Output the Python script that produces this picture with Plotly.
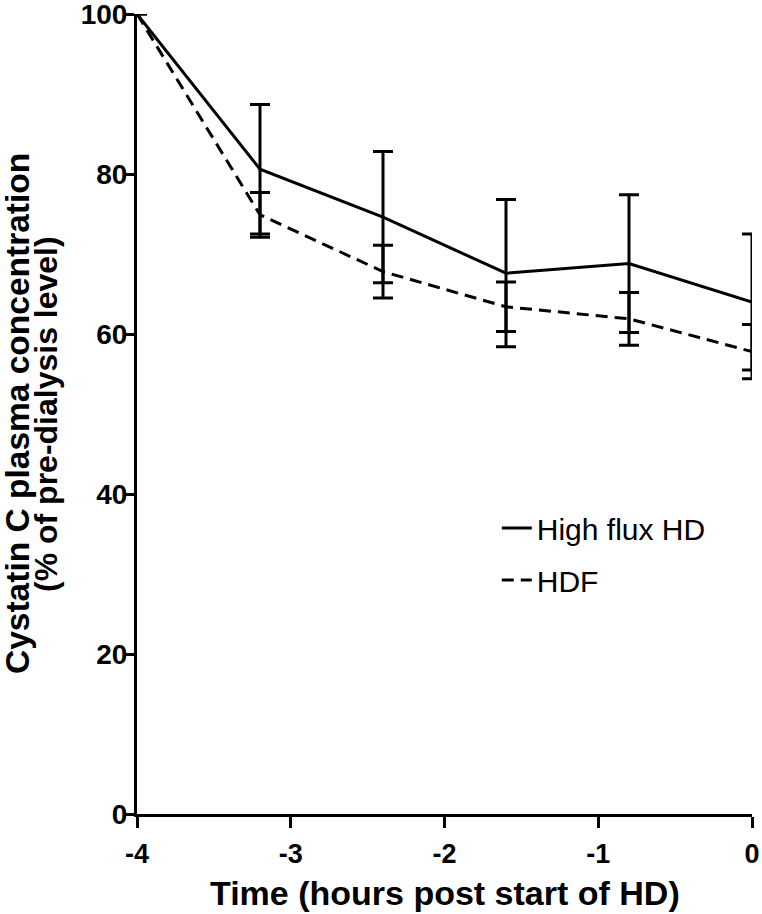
import plotly.graph_objects as go

# Data
time_h = [-4, -3.2, -2.4, -1.6, -0.8, 0]
hd_mean = [100, 80.6, 74.6, 67.6, 68.8, 64.0]
hd_err = [None, 8.1, 8.2, 9.2, 8.6, 8.5]
hdf_mean = [100, 74.9, 67.8, 63.4, 61.9, 57.8]
hdf_err = [None, 2.8, 3.3, 3.1, 3.3, 3.4]
series_names = ["High flux HD", "HDF"]
x_ticks = [-4, -3, -2, -1, 0]
y_ticks = [0, 20, 40, 60, 80, 100]

FONT = "Liberation Sans, Arial, sans-serif"

fig = go.Figure()
fig.add_trace(go.Scatter(
    x=time_h, y=hd_mean, name=series_names[0], mode="lines",
    line=dict(color="black", width=3),
    error_y=dict(type="data", array=hd_err, visible=True, color="black", thickness=3, width=10),
    cliponaxis=False, legendgroup="a",
))
fig.add_trace(go.Scatter(
    x=time_h, y=hdf_mean, name=series_names[1], mode="lines",
    line=dict(color="black", width=3, dash="12px,7px"),
    error_y=dict(type="data", array=hdf_err, visible=True, color="black", thickness=3, width=10),
    cliponaxis=False, legendgroup="b",
))

fig.update_layout(
    width=762, height=914,
    margin=dict(l=137, r=10, t=14, b=100),
    paper_bgcolor="white", plot_bgcolor="white",
    font=dict(family=FONT, color="black"),
    showlegend=True,
    legend=dict(x=0.585, y=0.390, xanchor="left", yanchor="top",
                font=dict(family=FONT, size=30, color="black"),
                bgcolor="rgba(0,0,0,0)", tracegroupgap=10, itemwidth=30),
    xaxis=dict(range=[-4, 0], tickvals=x_ticks, ticktext=[str(v) for v in x_ticks],
               automargin=False,
               showgrid=False, zeroline=False, showline=True, linecolor="black", linewidth=3,
               ticks="outside", ticklen=11, tickwidth=3, tickcolor="black",
               ticklabeloverflow="allow", ticklabelstandoff=3,
               tickfont=dict(family=FONT, size=27, color="black", weight="bold")),
    yaxis=dict(range=[0, 100], tickvals=y_ticks, ticktext=[str(v) for v in y_ticks],
               automargin=False,
               showgrid=False, zeroline=False, showline=True, linecolor="black", linewidth=3,
               ticks="outside", ticklen=11, tickwidth=3, tickcolor="black",
               ticklabeloverflow="allow", ticklabelstandoff=-10,
               tickfont=dict(family=FONT, size=28, color="black", weight="bold")),
    annotations=[
        dict(text="Time (hours post start of HD)", x=0.5, y=0, xref="paper", yref="paper",
             xanchor="center", yanchor="top", yshift=-58, showarrow=False,
             font=dict(family=FONT, size=34, color="black", weight="bold")),
        dict(text="Cystatin C plasma concentration", x=0, y=0.5, xref="paper", yref="paper",
             xanchor="center", yanchor="middle", xshift=-120, textangle=-90, showarrow=False,
             font=dict(family=FONT, size=33.5, color="black", weight="bold")),
        dict(text="(% of pre-dialysis level)", x=0, y=0.5, xref="paper", yref="paper",
             xanchor="center", yanchor="middle", xshift=-91, textangle=-90, showarrow=False,
             font=dict(family=FONT, size=32, color="black", weight="bold")),
    ],
)

fig.write_html("out.html", config={"displayModeBar": False},
               post_script="document.body.style.margin='0px';")
